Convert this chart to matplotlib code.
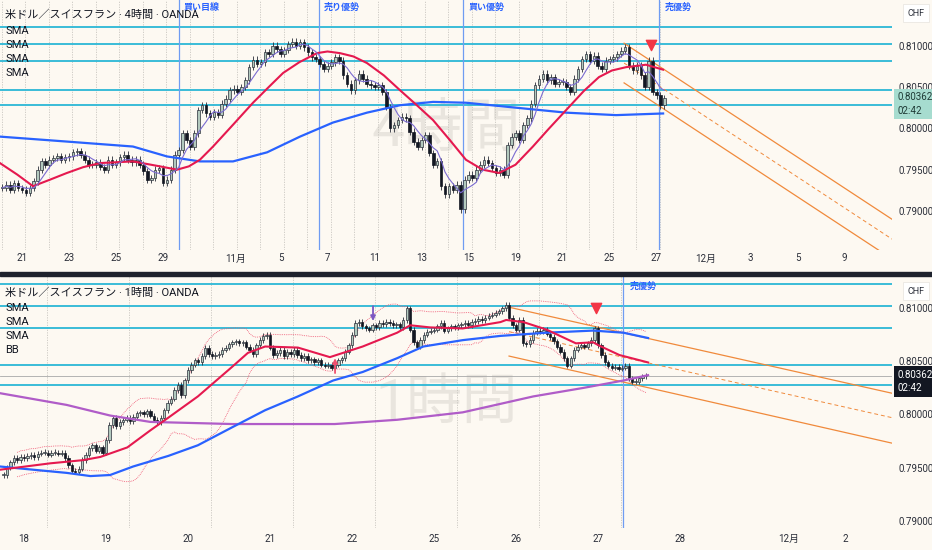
import numpy as np
import pandas as pd
import matplotlib
matplotlib.use('Agg')
import matplotlib.pyplot as plt
from matplotlib.transforms import blended_transform_factory
from matplotlib.patches import Rectangle

plt.rcParams['font.family'] = ['Roboto', 'Noto Sans CJK JP', 'DejaVu Sans']

# ---------------- 4時間足 (x = 営業日, 10/21 = 0) ----------------
close_4h = [
    0.7928, 0.7932, 0.7926, 0.7934, 0.7928,
    0.7926, 0.7922, 0.7928, 0.7936, 0.7950, 0.7960,
    0.7956, 0.7962, 0.7964, 0.7966, 0.7962, 0.7965,
    0.7966, 0.7971, 0.7972, 0.7968, 0.7962, 0.7956,
    0.7956, 0.7959, 0.7953, 0.7950, 0.7962, 0.7956,
    0.7959, 0.7965, 0.7968, 0.7962, 0.7959, 0.7962,
    0.7956, 0.7948, 0.7938, 0.7940, 0.7950, 0.7952,
    0.7934, 0.7938, 0.7950, 0.7968, 0.7974, 0.7994,
    0.7986, 0.7978, 0.7994, 0.8022, 0.8028, 0.8018,
    0.8014, 0.8020, 0.8016, 0.8030, 0.8036, 0.8046,
    0.8048, 0.8044, 0.8050, 0.8058, 0.8074, 0.8083,
    0.8078, 0.8080, 0.8092, 0.8090, 0.8100, 0.8096,
    0.8090, 0.8095, 0.8102, 0.8105, 0.8100, 0.8104,
    0.8098, 0.8092, 0.8086, 0.8084, 0.8078, 0.8072,
    0.8076, 0.8080, 0.8086, 0.8082, 0.8064, 0.8054,
    0.8046, 0.8058, 0.8066, 0.8060, 0.8054, 0.8052,
    0.8050, 0.8052, 0.8044, 0.8026, 0.8000, 0.8004,
    0.8010, 0.8014, 0.8012, 0.7996, 0.7984, 0.7978,
    0.7986, 0.7992, 0.7970, 0.7956, 0.7960, 0.7930,
    0.7920, 0.7930, 0.7926, 0.7932, 0.7902, 0.7938,
    0.7944, 0.7940, 0.7950, 0.7956, 0.7962, 0.7958,
    0.7952, 0.7946, 0.7950, 0.7944, 0.7980, 0.7990,
    0.7994, 0.7986, 0.8004, 0.8012, 0.8030, 0.8052,
    0.8060, 0.8066, 0.8058, 0.8062, 0.8054, 0.8056,
    0.8056, 0.8050, 0.8044, 0.8060, 0.8072, 0.8084,
    0.8090, 0.8082, 0.8088, 0.8076, 0.8072, 0.8082,
    0.8084, 0.8086, 0.8090, 0.8094, 0.8098, 0.8076,
    0.8070, 0.8076, 0.8064, 0.8050, 0.8082, 0.8044,
    0.8040, 0.8028, 0.80362,
]
red_4h_d = [-0.94, -0.2, 0.47, 1.2, 1.91, 2.6, 3.32, 4.72, 5.87, 6.60, 7.1, 7.57,
            8.13, 9.0, 9.83, 10.5, 11.11, 11.8, 12.55, 13.0, 13.53, 14.1, 14.68,
            15.4, 16.09, 16.8, 17.49, 18.2, 18.89, 19.6, 20.30, 21.0, 21.74, 22.4,
            23.15, 23.9, 24.55, 25.10, 25.70, 26.55, 27.28]
red_4h_p = [0.7958, 0.7944, 0.7930, 0.7938, 0.7946, 0.7953, 0.7958, 0.7960,
            0.7954, 0.7950, 0.7954, 0.7962, 0.7978, 0.8005, 0.8031, 0.8050,
            0.8067, 0.8080, 0.8091, 0.8093, 0.8091, 0.8087, 0.8079, 0.8064,
            0.8046, 0.8028, 0.8010, 0.7986, 0.7962, 0.7950, 0.7946, 0.7956,
            0.7978, 0.7999, 0.8022, 0.8045, 0.8062, 0.8070, 0.8074, 0.8077,
            0.8071]
blue_4h_d = [-0.94, 1.91, 4.72, 6.17, 7.57, 8.98, 10.43, 11.83, 13.23, 14.68,
             16.09, 17.49, 18.89, 21.02, 23.15, 25.28, 27.28]
blue_4h_p = [0.7990, 0.7984, 0.7978, 0.7966, 0.7960, 0.7960, 0.7971, 0.7990,
             0.8007, 0.8019, 0.8028, 0.8032, 0.8031, 0.8025, 0.8019, 0.8016,
             0.8018]
chan_4h_d = [25.62, 37.02]
chan_4h_upper = [0.8103, 0.7890]
chan_4h_mid = [0.8079, 0.7866]
chan_4h_lower = [0.8055, 0.7842]
vline_4h = [6.68, 12.64, 18.78, 27.12]
vline_4h_text = ['買い目線', '売り優勢', '買い優勢', '売優勢']
ticks_4h = [0, 2, 4, 6, 9.1, 11, 13, 15, 17, 19, 21, 23, 25, 27, 29.1, 31, 33, 35]
ticklabels_4h = ['21', '23', '25', '29', '11月', '5', '7', '11', '13', '15', '19',
                 '21', '25', '27', '12月', '3', '5', '9']
signal_4h = (26.77, 0.8101)

# ---------------- 1時間足 (x = 営業日, 11/18 = 0) ----------------
close_1h = [
    0.7943, 0.7950, 0.7955, 0.7959, 0.7957, 0.7960,
    0.7959, 0.7961, 0.7962, 0.7960, 0.7963, 0.7964, 0.7964, 0.7962, 0.7964, 0.7964, 0.7963, 0.7964,
    0.7959, 0.7952, 0.7947, 0.7946, 0.7949, 0.7957, 0.7962, 0.7968, 0.7971, 0.7966, 0.7969, 0.7964,
    0.7976, 0.7990, 0.7997, 0.7989, 0.7993, 0.7995, 0.7997, 0.7994, 0.7998, 0.8001, 0.8002, 0.8000,
    0.8003, 0.7999, 0.7995, 0.7993, 0.7997, 0.8004, 0.8011, 0.8015, 0.8023, 0.8028, 0.8018, 0.8032,
    0.8042, 0.8047, 0.8051, 0.8049, 0.8055, 0.8063, 0.8057, 0.8055, 0.8056, 0.8057, 0.8061, 0.8063,
    0.8066, 0.8068, 0.8069, 0.8067, 0.8068, 0.8064, 0.8061, 0.8057, 0.8065, 0.8070, 0.8074, 0.8075,
    0.8063, 0.8056, 0.8058, 0.8061, 0.8055, 0.8059, 0.8057, 0.8061, 0.8056, 0.8053, 0.8055, 0.8051,
    0.8052, 0.8049, 0.8051, 0.8047, 0.8046, 0.8047, 0.8044, 0.8047, 0.8051, 0.8053, 0.8059, 0.8065,
    0.8075, 0.8086, 0.8087, 0.8083, 0.8081, 0.8080, 0.8084, 0.8082, 0.8086, 0.8085, 0.8087, 0.8086,
    0.8084, 0.8085, 0.8082, 0.8089, 0.8100, 0.8080, 0.8068, 0.8064, 0.8070, 0.8075, 0.8078, 0.8079,
    0.8080, 0.8083, 0.8086, 0.8079, 0.8081, 0.8083, 0.8082, 0.8084, 0.8085, 0.8086, 0.8084, 0.8087,
    0.8088, 0.8090, 0.8089, 0.8091, 0.8093, 0.8094, 0.8096, 0.8097, 0.8100, 0.8103, 0.8091, 0.8084,
    0.8080, 0.8089, 0.8067, 0.8066, 0.8070, 0.8077, 0.8079, 0.8078, 0.8080, 0.8076, 0.8073, 0.8069,
    0.8064, 0.8059, 0.8053, 0.8046, 0.8053, 0.8061, 0.8064, 0.8065, 0.8064, 0.8067, 0.8070, 0.8081,
    0.8065, 0.8056, 0.8049, 0.8046, 0.8044, 0.8045, 0.8043, 0.8044, 0.8046, 0.8034, 0.8031, 0.8031,
    0.8034, 0.8036, 0.80362,
]
red_1h_d = [-0.29, 0.32, 0.72, 0.93, 1.26, 1.54, 1.76, 2.12, 2.54, 2.73, 2.94, 3.34,
            3.73, 4.13, 4.55, 4.71, 4.95, 5.35, 5.81, 5.88, 6.09, 6.37, 6.73, 6.94,
            7.01, 7.26, 7.61]
red_1h_p = [0.7948, 0.7954, 0.7957, 0.7960, 0.7969, 0.7985, 0.7997, 0.8017, 0.8045,
            0.8058, 0.8064, 0.8063, 0.8054, 0.8064, 0.8077, 0.8084, 0.8082, 0.8081,
            0.8087, 0.8089, 0.8087, 0.8080, 0.8067, 0.8068, 0.8065, 0.8056, 0.8049]
blue_1h_d = [-0.29, 0.11, 0.52, 0.81, 1.05, 1.33, 1.76, 2.12, 2.54, 2.94, 3.34,
             3.77, 4.13, 4.55, 4.87, 5.35, 5.81, 6.37, 6.94, 7.31, 7.61]
blue_1h_p = [0.7951, 0.7948, 0.7945, 0.7942, 0.7943, 0.7951, 0.7961, 0.7971,
             0.7988, 0.8004, 0.8017, 0.8032, 0.8040, 0.8053, 0.8064, 0.8070,
             0.8074, 0.8077, 0.8079, 0.8077, 0.8072]
purple_1h_d = [-0.29, 0.52, 1.05, 1.54, 2.54, 3.79, 4.55, 5.35, 5.81, 6.21, 6.82,
               7.31, 7.61]
purple_1h_p = [0.8020, 0.8009, 0.7999, 0.7993, 0.7991, 0.7991, 0.7995, 0.8002,
               0.8010, 0.8017, 0.8025, 0.8032, 0.8037]
chan_1h_d = [5.915, 10.585]
chan_1h_upper = [0.8101, 0.8020]
chan_1h_mid = [0.8078, 0.7997]
chan_1h_lower = [0.8055, 0.7973]
vline_1h = [7.30]
ticks_1h = [0, 1, 2, 3, 4, 5, 6, 7, 8, 9.32, 10.01]
ticklabels_1h = ['18', '19', '20', '21', '22', '25', '26', '27', '28', '12月', '2']
signal_1h = (6.976, 0.8100)
arrow_down_1h = (4.256, 0.8102, 0.8088)
arrow_up_1h = (3.793, 0.8039, 0.8053)

levels = [0.8123, 0.8102, 0.8081, 0.8047, 0.8028]
last_price = 0.80362

BG = '#fdf9f2'
CYAN = '#2bb7d6'
ORANGE = '#f08a3c'
VBLUE = '#6f9cf2'


def draw_candles(ax, x, closes, width, wick):
    c = np.asarray(closes)
    o = np.r_[c[0], c[:-1]]
    up = c >= o
    lo_body = np.minimum(o, c)
    body = np.maximum(np.abs(c - o), wick * 0.25)
    ax.vlines(x, lo_body - wick, lo_body + body + wick, color='#2a2e39', lw=0.6, zorder=4)
    ax.bar(x[up], body[up], width, bottom=lo_body[up], color='#b3c9be',
           edgecolor='#2a2e39', linewidth=0.5, zorder=5)
    ax.bar(x[~up], body[~up], width, bottom=lo_body[~up], color='#131722',
           edgecolor='#131722', linewidth=0.5, zorder=5)


def style_axes(ax, xlim, ylim, ticks, labels, pad_x):
    ax.set_facecolor(BG)
    ax.set_xlim(*xlim)
    ax.set_ylim(*ylim)
    for s in ax.spines.values():
        s.set_visible(False)
    ax.yaxis.tick_right()
    ax.set_yticks([0.790, 0.795, 0.800, 0.805, 0.810])
    ax.set_yticklabels(['0.79000', '0.79500', '0.80000', '0.80500', '0.81000'])
    ax.set_xticks(ticks, labels)
    ax.tick_params(axis='both', length=0, labelsize=7, labelcolor='#2a2e39')
    ax.tick_params(axis='y', pad=4.5)
    ax.tick_params(axis='x', pad=pad_x)
    for lv in levels:
        ax.axhline(lv, color=CYAN, lw=1.3, zorder=2)


def draw_arrow(ax, spec, color):
    ax.annotate('', xy=(spec[0], spec[2]), xytext=(spec[0], spec[1]),
                arrowprops=dict(arrowstyle='-|>', color=color, lw=1.3,
                                mutation_scale=7, shrinkA=0, shrinkB=0),
                zorder=8)


fig = plt.figure(figsize=(9.32, 5.5), dpi=100, facecolor=BG)
ax1 = fig.add_axes([0, 1 - 250 / 550, 892 / 932, 250 / 550])
ax2 = fig.add_axes([0, 1 - 528 / 550, 892 / 932, 252 / 550])

# ---------- 上段 4時間 ----------
x4 = -1 + (np.arange(len(close_4h)) + 1) / 6
style_axes(ax1, (-0.936, 37.02), (0.78528, 0.81553), ticks_4h, ticklabels_4h, 2.5)
for d in range(-1, 28):
    ax1.axvline(d + 0.13, color='#c9c6c0', lw=0.6, ls=(0, (1.5, 1.5)), zorder=1)
for d in vline_4h:
    ax1.axvline(d, color=VBLUE, lw=0.9, zorder=3)
ax1.text(0.5, 0.48, '4時間', transform=ax1.transAxes, fontsize=42, color='#e9e5de',
         ha='center', va='center', zorder=0.5)
ax1.plot(blue_4h_d, blue_4h_p, color='#2962ff', lw=1.6, zorder=6)
ax1.plot(red_4h_d, red_4h_p, color='#e5194f', lw=1.5, zorder=6)
sma5 = pd.Series(close_4h).rolling(5, min_periods=1).mean()
ax1.plot(x4, sma5, color='#7b6bd1', lw=0.8, zorder=6)
draw_candles(ax1, x4, close_4h, 0.11, 0.0004)
ax1.plot(chan_4h_d, chan_4h_upper, color=ORANGE, lw=0.9, zorder=3)
ax1.plot(chan_4h_d, chan_4h_lower, color=ORANGE, lw=0.9, zorder=3)
ax1.plot(chan_4h_d, chan_4h_mid, color=ORANGE, lw=0.7, ls=(0, (4, 3)), zorder=3)
ax1.scatter([signal_4h[0]], [signal_4h[1]], marker='v', s=55, color='#f23645', zorder=7)

# ---------- 下段 1時間 ----------
x1 = -0.25 + np.arange(len(close_1h)) / 24
style_axes(ax2, (-0.293, 10.585), (0.78931, 0.81304), ticks_1h, ticklabels_1h, 4)
for d in range(0, 8):
    ax2.axvline(d + 0.28, color='#c9c6c0', lw=0.6, ls=(0, (1.5, 1.5)), zorder=1)
for d in vline_1h:
    ax2.axvline(d, color=VBLUE, lw=0.9, zorder=3)
ax2.axhline(last_price, color='#a8a8a8', lw=0.6, zorder=2)
ax2.text(0.5, 0.496, '1時間', transform=ax2.transAxes, fontsize=40, color='#e9e5de',
         ha='center', va='center', zorder=0.5)
s = pd.Series(close_1h)
bb_mid = s.rolling(20, min_periods=5).mean()
bb_std = s.rolling(20, min_periods=5).std(ddof=0)
ax2.plot(x1, bb_mid + 2 * bb_std, color='#ef5370', lw=0.6, ls=(0, (1, 1.2)), zorder=3)
ax2.plot(x1, bb_mid - 2 * bb_std, color='#ef5370', lw=0.6, ls=(0, (1, 1.2)), zorder=3)
ax2.plot(purple_1h_d, purple_1h_p, color='#b05cc8', lw=1.6, zorder=6)
ax2.plot(blue_1h_d, blue_1h_p, color='#2962ff', lw=1.6, zorder=6)
ax2.plot(red_1h_d, red_1h_p, color='#e5194f', lw=1.5, zorder=6)
draw_candles(ax2, x1, close_1h, 0.028, 0.00025)
ax2.plot(chan_1h_d, chan_1h_upper, color=ORANGE, lw=0.9, zorder=3)
ax2.plot(chan_1h_d, chan_1h_lower, color=ORANGE, lw=0.9, zorder=3)
ax2.plot(chan_1h_d, chan_1h_mid, color=ORANGE, lw=0.7, ls=(0, (4, 3)), zorder=3)
ax2.scatter([signal_1h[0]], [signal_1h[1]], marker='v', s=55, color='#f23645', zorder=7)
draw_arrow(ax2, arrow_down_1h, '#7e57c2')
draw_arrow(ax2, arrow_up_1h, '#f0506e')

# ---------- 価格ラベル ----------
for ax, fc, tc in [(ax1, '#a6dccf', '#1f3b36'), (ax2, '#131722', 'white')]:
    tr = blended_transform_factory(ax.transAxes, ax.transData)
    ax.annotate('0.80362\n02:42', xy=(1.006, last_price), xycoords=tr,
                xytext=(0, 4.5), textcoords='offset points', fontsize=7, color=tc,
                va='top', ha='left', linespacing=1.45, zorder=10, annotation_clip=False,
                bbox=dict(boxstyle='square,pad=0.35', fc=fc, ec='none'))

for ytop in [5, 283]:
    fig.text(916 / 932, 1 - (ytop + 8) / 550, 'CHF', fontsize=6.5, color='#2a2e39',
             ha='center', va='center',
             bbox=dict(boxstyle='square,pad=0.45', fc='white', ec='#e6e3de', lw=0.5))

# ---------- 凡例テキスト ----------
fig.text(5 / 932, 1 - 15 / 550, '米ドル／スイスフラン · 4時間 · OANDA', fontsize=8,
         color='#131722', va='center')
for i in range(4):
    fig.text(5 / 932, 1 - (31 + 14 * i) / 550, 'SMA', fontsize=8, color='#131722',
             va='center')
fig.text(5 / 932, 1 - 293 / 550, '米ドル／スイスフラン · 1時間 · OANDA', fontsize=8,
         color='#131722', va='center')
for i, name in enumerate(['SMA', 'SMA', 'SMA', 'BB']):
    fig.text(5 / 932, 1 - (308 + 14 * i) / 550, name, fontsize=8, color='#131722',
             va='center')

for d, t in zip(vline_4h, vline_4h_text):
    xpx = 22 + 23.5 * d
    fig.text((xpx + 5) / 932, 1 - 7 / 550, t, fontsize=6.5, color='#2962ff',
             fontweight='bold', va='center')
fig.text(630 / 932, 1 - 286 / 550, '売優勢', fontsize=6.5, color='#2962ff',
         fontweight='bold', va='center')

# 区切り線
fig.add_artist(Rectangle((0, 1 - 276 / 550), 1, 4 / 550, transform=fig.transFigure,
                         color='#1e222d', zorder=20))

fig.savefig('out.png', dpi=100, facecolor=BG)
